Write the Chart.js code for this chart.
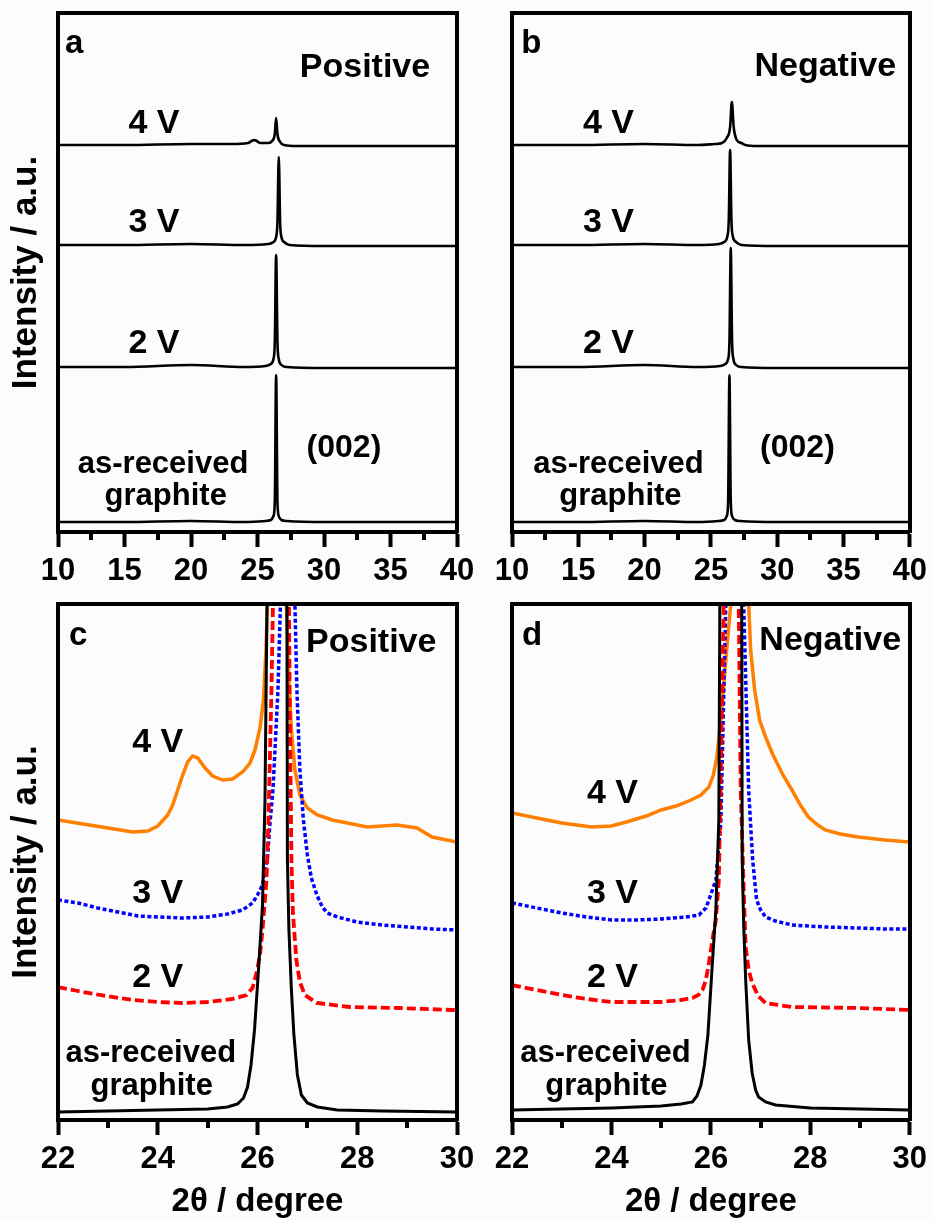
<!DOCTYPE html>
<html><head><meta charset="utf-8">
<script src="https://cdn.jsdelivr.net/npm/chart.js@4.4.1/dist/chart.umd.min.js"></script>
<style>
html,body{margin:0;padding:0;background:#fcfcfc;}
body{width:933px;height:1220px;position:relative;overflow:hidden;}
canvas{position:absolute;}
</style></head><body>
<canvas id="pa" width="485" height="600" style="left:0px;top:0px"></canvas>
<canvas id="pb" width="463" height="600" style="left:470px;top:0px"></canvas>
<canvas id="pc" width="485" height="630" style="left:0px;top:590px"></canvas>
<canvas id="pd" width="463" height="630" style="left:470px;top:590px"></canvas>
<script>
const FONT = "'Liberation Sans', Arial, Helvetica, sans-serif";

// ---- tick values ----
const topTicks = [10, 15, 20, 25, 30, 35, 40];
const topMinor = [12.5, 17.5, 22.5, 27.5, 32.5, 37.5];
const botTicks = [22, 24, 26, 28, 30];
const botMinor = [23, 25, 27, 29];

// ---- panel a (Positive, 10-40 deg) ----
const aX_gr = [10, 15, 20, 24, 25.6, 26.0, 26.2, 26.3, 26.4, 26.5, 26.6, 26.8, 27.2, 30, 35, 40];
const aY_gr = [10, 10, 11, 10, 11, 12, 16, 30, 157, 30, 16, 12, 11, 10, 10, 10];
const aX_2V = [10, 15, 20, 24, 25.6, 26.0, 26.2, 26.3, 26.4, 26.5, 26.6, 26.8, 27.2, 30, 35, 40];
const aY_2V = [165, 165, 167, 165, 166, 168, 173, 190, 277, 190, 173, 167, 165, 164, 164, 164];
const aX_3V = [10, 15, 20, 24, 25.8, 26.2, 26.4, 26.5, 26.6, 26.7, 26.8, 27.0, 27.4, 30, 35, 40];
const aY_3V = [287, 287, 288, 287, 288, 290, 295, 310, 375, 310, 295, 290, 287, 286, 286, 286];
const aX_4V = [10, 15, 20, 23, 24.3, 24.55, 24.75, 24.95, 25.2, 25.8, 26.1, 26.3, 26.4, 26.5, 26.7, 27.0, 28, 30, 35, 40];
const aY_4V = [387, 387, 388, 388, 389, 391, 392, 391, 389, 389, 391, 398, 414, 398, 390, 387, 386, 386, 386, 386];

// ---- panel b (Negative, 10-40 deg) ----
const bX_gr = [10, 15, 20, 24, 25.6, 26.0, 26.2, 26.3, 26.4, 26.5, 26.6, 26.8, 27.2, 30, 35, 40];
const bY_gr = [10, 10, 11, 10, 11, 12, 16, 30, 157, 30, 16, 12, 11, 10, 10, 10];
const bX_2V = [10, 15, 20, 24, 25.7, 26.1, 26.3, 26.4, 26.5, 26.6, 26.7, 26.9, 27.3, 30, 35, 40];
const bY_2V = [165, 165, 167, 165, 166, 168, 173, 190, 284, 190, 173, 167, 165, 164, 164, 164];
const bX_3V = [10, 15, 20, 24, 25.6, 26.0, 26.25, 26.35, 26.45, 26.55, 26.65, 26.9, 27.3, 30, 35, 40];
const bY_3V = [287, 287, 288, 287, 288, 290, 296, 312, 382, 312, 296, 290, 287, 286, 286, 286];
const bX_4V = [10, 15, 20, 24, 25.3, 25.85, 26.2, 26.45, 26.58, 26.72, 26.95, 27.3, 27.6, 28.5, 30, 35, 40];
const bY_4V = [387, 387, 388, 387, 388, 389, 394, 405, 430, 405, 392, 389, 387, 386, 386, 386, 386];

// ---- panel c (Positive, 22-30 deg) ----
const cX_gr = [22, 23, 24, 25, 25.4, 25.6, 25.72, 25.8, 25.87, 25.94, 26.02, 26.1, 26.15, 26.19, 26.39, 26.59, 26.6, 26.63, 26.68, 26.73, 26.8, 26.88, 27.0, 27.2, 27.6, 28.5, 30];
const cY_gr = [8, 9, 10, 11, 13, 16, 22, 33, 55, 90, 150, 215, 320, 516, 1700, 516, 260, 190, 130, 85, 45, 25, 17, 13, 10, 9, 8];
const cX_2V = [22, 22.4, 22.84, 23.5, 24, 24.5, 25, 25.5, 25.78, 25.9, 25.98, 26.05, 26.1, 26.18, 26.22, 26.28, 26.31, 26.47, 26.63, 26.65, 26.68, 26.71, 26.78, 26.85, 26.95, 27.19, 27.85, 28.85, 29.9, 30];
const cY_2V = [133, 129, 125, 120, 118, 117, 118, 121, 125, 132, 147, 165, 190, 240, 300, 430, 516, 1600, 516, 400, 260, 207, 160, 138, 125, 117, 113, 112, 110, 110];
const cX_3V = [22, 22.4, 22.8, 23.2, 23.6, 24, 24.5, 25, 25.4, 25.7, 25.9, 26.0, 26.1, 26.2, 26.25, 26.31, 26.41, 26.46, 26.6, 26.75, 26.79, 26.85, 26.92, 27.0, 27.08, 27.19, 27.3, 27.4, 27.6, 28, 28.5, 29, 29.5, 30];
const cY_3V = [220, 217, 212, 208, 204, 203, 202, 203, 206, 210, 217, 225, 235, 262, 297, 330, 430, 516, 1600, 516, 430, 350, 300, 265, 242, 225, 213, 207, 203, 198, 195, 193, 191, 190];
const cX_4V = [22, 22.5, 23, 23.5, 23.8, 24, 24.2, 24.3, 24.4, 24.5, 24.6, 24.7, 24.8, 24.95, 25.1, 25.3, 25.5, 25.7, 25.85, 25.95, 26.05, 26.12, 26.17, 26.2, 26.4, 26.58, 26.62, 26.68, 26.75, 26.85, 27, 27.2, 27.5, 28.2, 28.8, 29.2, 29.5, 30];
const cY_4V = [300, 296, 292, 288, 289, 294, 305, 315, 330, 345, 358, 364, 362, 352, 344, 340, 341, 348, 357, 370, 392, 420, 470, 516, 1500, 516, 450, 390, 350, 325, 312, 305, 300, 293, 295, 292, 283, 278];

// ---- panel d (Negative, 22-30 deg) ----
const dX_gr = [22, 23, 24, 25, 25.4, 25.63, 25.72, 25.8, 25.87, 25.94, 26.03, 26.1, 26.16, 26.18, 26.4, 26.62, 26.63, 26.66, 26.7, 26.76, 26.83, 26.9, 26.96, 27.1, 27.3, 28, 29, 30];
const dY_gr = [10, 11, 12, 14, 16, 18, 24, 35, 55, 85, 157, 210, 300, 516, 1700, 516, 260, 195, 140, 80, 47, 30, 23, 18, 15, 12, 11, 10];
const dX_2V = [22, 22.5, 23, 23.5, 24, 24.5, 25, 25.4, 25.63, 25.75, 25.83, 25.9, 25.96, 26.03, 26.1, 26.16, 26.26, 26.41, 26.56, 26.6, 26.66, 26.7, 26.76, 26.83, 26.95, 27.1, 27.63, 28.96, 30];
const dY_2V = [135, 130, 125, 121, 118, 118, 118, 120, 122, 125, 130, 140, 157, 180, 200, 240, 516, 1600, 516, 330, 230, 173, 150, 137, 124, 117, 113, 112, 110];
const dX_3V = [22, 22.5, 23, 23.5, 24, 24.5, 25, 25.5, 25.76, 25.9, 25.96, 26.03, 26.1, 26.2, 26.3, 26.48, 26.66, 26.76, 26.84, 26.92, 27, 27.1, 27.3, 27.63, 28.3, 28.96, 29.5, 30];
const dY_3V = [217, 212, 207, 203, 200, 200, 201, 203, 205, 212, 220, 230, 240, 297, 516, 1600, 516, 330, 260, 220, 210, 203, 199, 195, 193, 192, 191, 191];
const dX_4V = [22, 22.5, 23, 23.6, 24, 24.3, 24.7, 25, 25.3, 25.6, 25.8, 25.96, 26.05, 26.12, 26.2, 26.3, 26.4, 26.58, 26.76, 26.8, 26.88, 26.98, 27.1, 27.25, 27.45, 27.63, 27.8, 27.96, 28.15, 28.3, 28.6, 28.96, 29.5, 30];
const dY_4V = [307, 302, 297, 293, 294, 298, 304, 310, 314, 320, 325, 333, 345, 363, 400, 460, 516, 1500, 516, 470, 430, 400, 383, 365, 345, 330, 315, 303, 295, 290, 286, 283, 280, 278];

// ---- text labels ----
const textsA = [
  {text: 'a', x: 10.53, y: 479, align: 'left', size: 33},
  {text: 'Positive', x: 33.08, y: 455, size: 34},
  {text: '4 V', x: 17.22, y: 399, size: 34},
  {text: '3 V', x: 17.22, y: 300, size: 34},
  {text: '2 V', x: 17.22, y: 179, size: 34},
  {text: '(002)', x: 31.5, y: 75, size: 32},
  {text: 'as-received', x: 17.9, y: 59, size: 31},
  {text: 'graphite', x: 18.1, y: 27, size: 31}
];
const textsB = [
  {text: 'b', x: 10.7, y: 479, align: 'left', size: 33},
  {text: 'Negative', x: 33.63, y: 456, size: 34},
  {text: '4 V', x: 17.28, y: 399, size: 34},
  {text: '3 V', x: 17.28, y: 300, size: 34},
  {text: '2 V', x: 17.28, y: 179, size: 34},
  {text: '(002)', x: 31.53, y: 75, size: 32},
  {text: 'as-received', x: 18.03, y: 59, size: 31},
  {text: 'graphite', x: 18.18, y: 27, size: 31}
];
const textsC = [
  {text: 'c', x: 22.22, y: 475, align: 'left', size: 33},
  {text: 'Positive', x: 28.28, y: 468, size: 34},
  {text: '4 V', x: 24.0, y: 368, size: 34},
  {text: '3 V', x: 24.0, y: 217, size: 34},
  {text: '2 V', x: 24.0, y: 133, size: 34},
  {text: 'as-received', x: 23.86, y: 58, size: 31},
  {text: 'graphite', x: 23.88, y: 25, size: 31}
];
const textsD = [
  {text: 'd', x: 22.2, y: 475, align: 'left', size: 33},
  {text: 'Negative', x: 28.4, y: 470, size: 34},
  {text: '4 V', x: 24.02, y: 317, size: 34},
  {text: '3 V', x: 24.02, y: 217, size: 34},
  {text: '2 V', x: 24.02, y: 133, size: 34},
  {text: 'as-received', x: 23.88, y: 58, size: 31},
  {text: 'graphite', x: 23.9, y: 25, size: 31}
];

function pts(xs, ys) { return xs.map((x, i) => ({x: x, y: ys[i]})); }

const FRAME_W = 4;

const minorTickPlugin = {
  id: 'minorTicks',
  afterDraw(chart, args, opts) {
    const s = chart.scales.x, ctx = chart.ctx;
    ctx.save();
    ctx.strokeStyle = '#000';
    ctx.lineWidth = FRAME_W;
    opts.values.forEach(v => {
      const p = Math.round(s.getPixelForValue(v) - FRAME_W / 2) + FRAME_W / 2;
      ctx.beginPath();
      ctx.moveTo(p, s.top);
      ctx.lineTo(p, s.top + opts.length);
      ctx.stroke();
    });
    ctx.restore();
  }
};

const textPlugin = {
  id: 'panelText',
  afterDraw(chart, args, opts) {
    const ctx = chart.ctx, x = chart.scales.x, y = chart.scales.y;
    ctx.save();
    ctx.fillStyle = '#000';
    ctx.textBaseline = 'alphabetic';
    opts.items.forEach(it => {
      ctx.font = 'bold ' + it.size + 'px ' + FONT;
      ctx.textAlign = it.align || 'center';
      ctx.fillText(it.text, x.getPixelForValue(it.x), y.getPixelForValue(it.y));
    });
    ctx.restore();
  }
};

function frameAxis(pos, min, max, fitFn) {
  return {
    type: 'linear', position: pos, min: min, max: max, display: true,
    grid: {display: false}, ticks: {display: false},
    border: {display: true, width: FRAME_W, color: '#000', z: 1},
    afterFit: fitFn
  };
}

function makeChart(id, datasets, cfg) {
  const boldFont = (size, lh) => ({family: FONT, size: size, weight: 'bold', lineHeight: lh || 1.2});
  new Chart(document.getElementById(id), {
    type: 'line',
    data: {datasets: datasets},
    options: {
      responsive: false, animation: false, devicePixelRatio: 1,
      layout: {padding: {left: 0, top: cfg.padTop, right: cfg.padRight, bottom: 0}},
      plugins: {
        legend: {display: false}, tooltip: {enabled: false},
        minorTicks: {values: cfg.minor, length: 8},
        panelText: {items: cfg.texts}
      },
      elements: {point: {radius: 0}, line: {tension: 0}},
      scales: {
        x: {
          type: 'linear', position: 'bottom', min: cfg.xmin, max: cfg.xmax,
          afterBuildTicks: s => { s.ticks = cfg.ticks.map(v => ({value: v})); },
          afterFit: s => { s.height = cfg.xAxisH; },
          grid: {display: true, drawOnChartArea: false, drawTicks: true, tickLength: 15, tickWidth: FRAME_W, tickColor: '#000'},
          border: {display: true, width: FRAME_W, color: '#000', z: 1},
          ticks: {color: '#000', font: boldFont(31), padding: 6, maxRotation: 0, autoSkip: false},
          title: cfg.xTitle ? {display: true, text: cfg.xTitle, color: '#000', font: boldFont(33, 1), padding: {top: 0, bottom: 2}} : {display: false}
        },
        x2: frameAxis('top', cfg.xmin, cfg.xmax, s => { s.height = 0; }),
        y: {
          type: 'linear', position: 'left', min: 0, max: cfg.ymax,
          grid: {display: false}, ticks: {display: false},
          border: {display: true, width: FRAME_W, color: '#000', z: 1},
          afterFit: s => { s.width = cfg.yAxisW; },
          title: cfg.yTitle ? {display: true, text: cfg.yTitle, color: '#000', font: boldFont(35), padding: {top: 5, bottom: 0}} : {display: false}
        },
        y2: frameAxis('right', 0, cfg.ymax, s => { s.width = 0; })
      }
    },
    plugins: [minorTickPlugin, textPlugin]
  });
}

function topSets(xg, yg, x2, y2, x3, y3, x4, y4) {
  const base = {borderColor: '#000', borderWidth: 2.6, fill: false, cubicInterpolationMode: 'monotone', xAxisID: 'x', yAxisID: 'y'};
  return [
    Object.assign({label: 'as-received graphite', data: pts(xg, yg), order: 0}, base),
    Object.assign({label: '2 V', data: pts(x2, y2), order: 1}, base),
    Object.assign({label: '3 V', data: pts(x3, y3), order: 2}, base),
    Object.assign({label: '4 V', data: pts(x4, y4), order: 3}, base)
  ];
}
function botSets(xg, yg, x2, y2, x3, y3, x4, y4) {
  const c = {fill: false, tension: 0, xAxisID: 'x', yAxisID: 'y'};
  return [
    Object.assign({label: 'as-received graphite', data: pts(xg, yg), borderColor: '#000000', borderWidth: 3, order: 0}, c),
    Object.assign({label: '2 V', data: pts(x2, y2), borderColor: '#ff0000', borderWidth: 3.8, borderDash: [9, 4], order: 1}, c),
    Object.assign({label: '3 V', data: pts(x3, y3), borderColor: '#0000ff', borderWidth: 3.5, borderDash: [4, 2.5], order: 2}, c),
    Object.assign({label: '4 V', data: pts(x4, y4), borderColor: '#ff7f00', borderWidth: 3.5, order: 3}, c)
  ];
}

makeChart('pa', topSets(aX_gr, aY_gr, aX_2V, aY_2V, aX_3V, aY_3V, aX_4V, aY_4V),
  {xmin: 10, xmax: 40, ymax: 519, ticks: topTicks, minor: topMinor, texts: textsA,
   padTop: 13, padRight: 28, xAxisH: 68, yAxisW: 58, yTitle: 'Intensity / a.u.'});
makeChart('pb', topSets(bX_gr, bY_gr, bX_2V, bY_2V, bX_3V, bY_3V, bX_4V, bY_4V),
  {xmin: 10, xmax: 40, ymax: 519, ticks: topTicks, minor: topMinor, texts: textsB,
   padTop: 13, padRight: 21, xAxisH: 68, yAxisW: 42});
makeChart('pc', botSets(cX_gr, cY_gr, cX_2V, cY_2V, cX_3V, cY_3V, cX_4V, cY_4V),
  {xmin: 22, xmax: 30, ymax: 516, ticks: botTicks, minor: botMinor, texts: textsC,
   padTop: 14, padRight: 28, xAxisH: 100, yAxisW: 58, yTitle: 'Intensity / a.u.', xTitle: '2θ / degree'});
makeChart('pd', botSets(dX_gr, dY_gr, dX_2V, dY_2V, dX_3V, dY_3V, dX_4V, dY_4V),
  {xmin: 22, xmax: 30, ymax: 516, ticks: botTicks, minor: botMinor, texts: textsD,
   padTop: 14, padRight: 21, xAxisH: 100, yAxisW: 42, xTitle: '2θ / degree'});
</script>
</body></html>
